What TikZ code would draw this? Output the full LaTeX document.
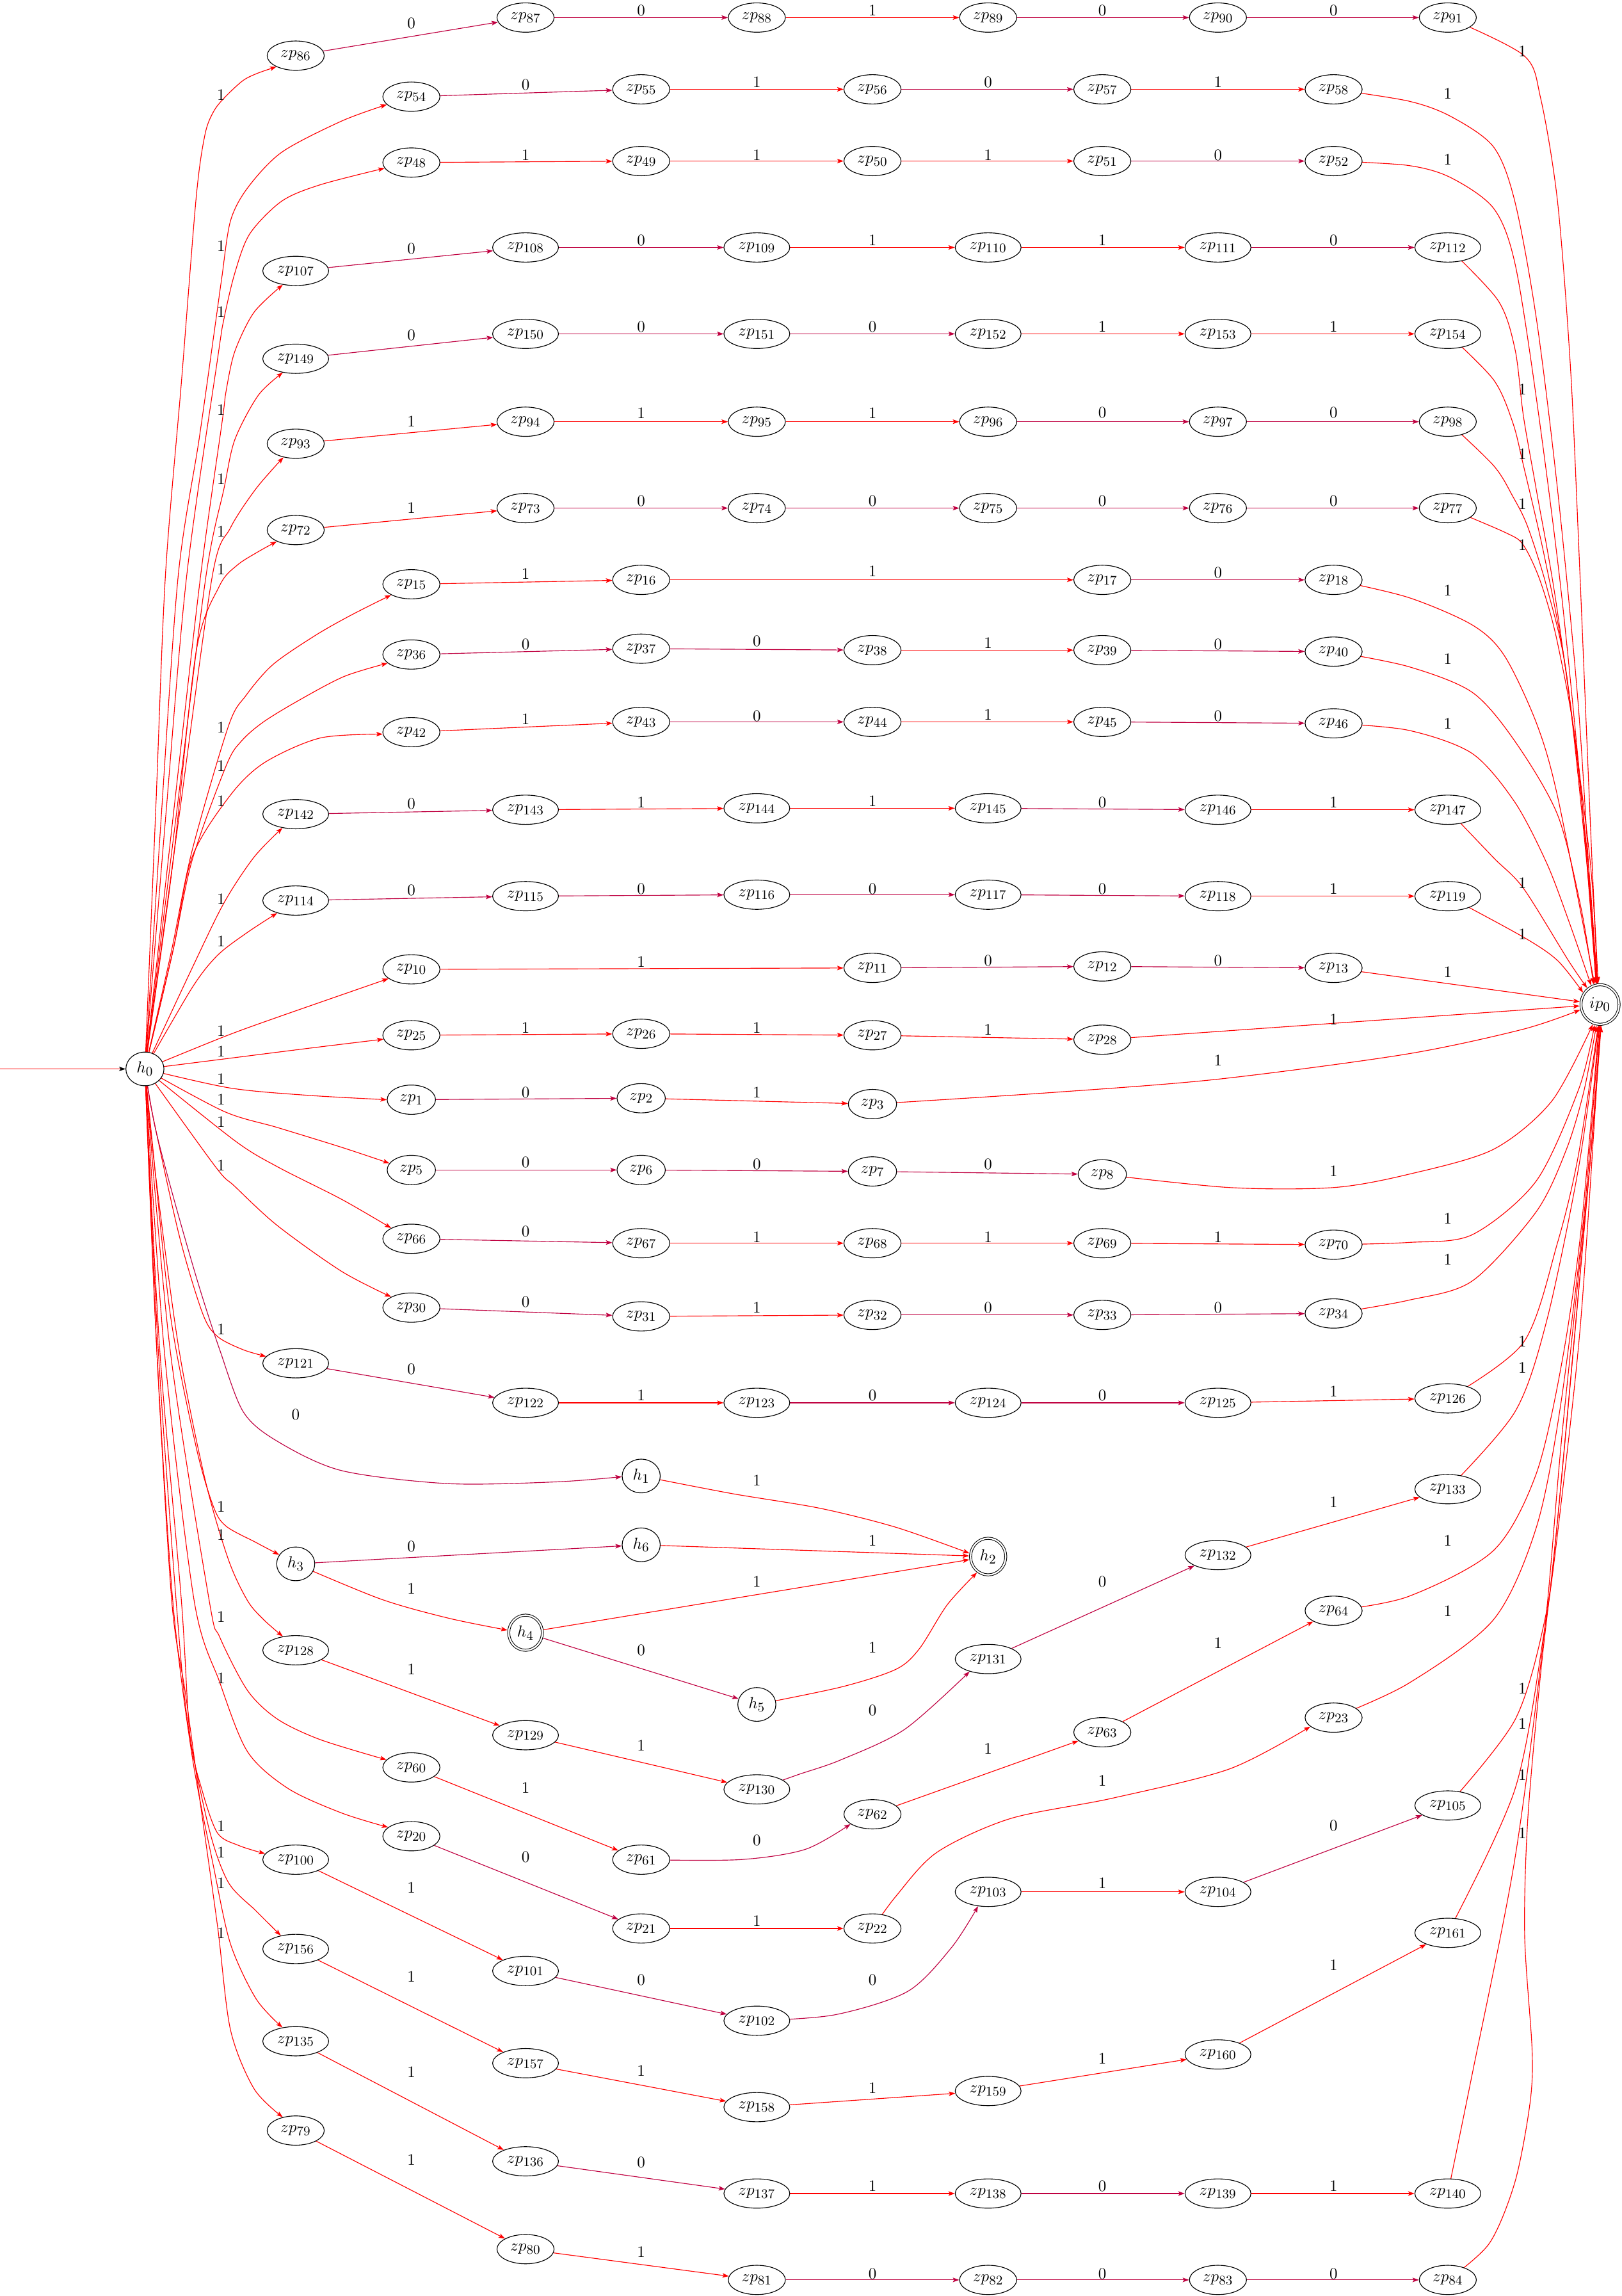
\documentclass[tikz,border=0pt]{standalone}
\usetikzlibrary{arrows.meta,shapes.geometric}
\pgfdeclarelayer{edges}
\pgfsetlayers{edges,main}
\DeclareMathSizes{10.95}{10.95}{8.8}{6.5}
\newcommand\nf{\fontsize{10.95}{13}\selectfont}
\definecolor{zerocol}{rgb}{0.75,0,0.25}
\tikzset{
 st/.style={draw, ellipse, fill=white, inner sep=0pt, minimum height=20pt, line width=0.5pt, font=\nf},
 z1/.style={st, minimum width=33pt},
 z2/.style={st, minimum width=39pt},
 z3/.style={st, minimum width=45pt},
 hs/.style={st, minimum width=26pt, minimum height=23pt},
 acc/.style={draw, ellipse, fill=white, inner sep=0pt, double, double distance=1pt, line width=0.45pt, outer sep=1pt, font=\nf},
 myarr/.style={-{Stealth[length=4.4pt,width=3.1pt,inset=1pt]}},
 e1/.style={draw=red, line width=0.5pt, myarr},
 e0/.style={draw=zerocol, line width=0.5pt, myarr},
 lbl/.style={inner sep=0pt, font=\nf}
}
\newcommand\ZN[4]{\node[#1] (zp#2) at (#3,#4) {$zp_{#2}$};}
\newcommand\ER[2]{\draw[e1] (#1) -- (#2);}
\newcommand\EP[2]{\draw[e0] (#1) -- (#2);}
\newcounter{lbc}
\newcommand\LB[3]{\stepcounter{lbc}\node[lbl] (lb\arabic{lbc}) at (#1,#2) {#3};}
\begin{document}
\begin{tikzpicture}[x=1pt,y=-1pt]
\useasboundingbox (0,0) rectangle (1108,1568);
% ---------------- nodes
\node[hs] (h0) at (99,730) {$h_0$};
\node[acc, minimum width=26pt, minimum height=27pt] (ip0) at (1093,686) {$ip_0$};
\ZN{z2}{86}{202}{38}\ZN{z2}{87}{359}{12}\ZN{z2}{88}{517}{12}\ZN{z2}{89}{675}{12}\ZN{z2}{90}{832}{12}\ZN{z2}{91}{989}{12}
\ZN{z2}{54}{281}{66}\ZN{z2}{55}{438}{61}\ZN{z2}{56}{596}{61}\ZN{z2}{57}{753}{61}\ZN{z2}{58}{911}{61}
\ZN{z2}{48}{281}{111}\ZN{z2}{49}{438}{110}\ZN{z2}{50}{596}{110}\ZN{z2}{51}{753}{110}\ZN{z2}{52}{911}{110}
\ZN{z3}{107}{202}{185}\ZN{z3}{108}{359}{169}\ZN{z3}{109}{517}{169}\ZN{z3}{110}{675}{169}\ZN{z3}{111}{832}{169}\ZN{z3}{112}{989}{169}
\ZN{z3}{149}{202}{245}\ZN{z3}{150}{359}{228}\ZN{z3}{151}{517}{228}\ZN{z3}{152}{675}{228}\ZN{z3}{153}{832}{228}\ZN{z3}{154}{989}{228}
\ZN{z2}{93}{202}{303}\ZN{z2}{94}{359}{288}\ZN{z2}{95}{517}{288}\ZN{z2}{96}{675}{288}\ZN{z2}{97}{832}{288}\ZN{z2}{98}{989}{288}
\ZN{z2}{72}{202}{362}\ZN{z2}{73}{359}{347}\ZN{z2}{74}{517}{347}\ZN{z2}{75}{675}{347}\ZN{z2}{76}{832}{347}\ZN{z2}{77}{989}{347}
\ZN{z2}{15}{281}{399}\ZN{z2}{16}{438}{396}\ZN{z2}{17}{753}{396}\ZN{z2}{18}{911}{396}
\ZN{z2}{36}{281}{447}\ZN{z2}{37}{438}{443}\ZN{z2}{38}{596}{444}\ZN{z2}{39}{753}{444}\ZN{z2}{40}{911}{445}
\ZN{z2}{42}{281}{500}\ZN{z2}{43}{438}{493}\ZN{z2}{44}{596}{493}\ZN{z2}{45}{753}{493}\ZN{z2}{46}{911}{494}
\ZN{z3}{142}{202}{556}\ZN{z3}{143}{359}{553}\ZN{z3}{144}{517}{552}\ZN{z3}{145}{675}{552}\ZN{z3}{146}{832}{553}\ZN{z3}{147}{989}{553}
\ZN{z3}{114}{202}{615}\ZN{z3}{115}{359}{612}\ZN{z3}{116}{517}{611}\ZN{z3}{117}{675}{611}\ZN{z3}{118}{832}{612}\ZN{z3}{119}{989}{612}
\ZN{z2}{10}{281}{662}\ZN{z2}{11}{596}{661}\ZN{z2}{12}{753}{660}\ZN{z2}{13}{911}{661}
\ZN{z2}{25}{281}{707}\ZN{z2}{26}{438}{706}\ZN{z2}{27}{596}{707}\ZN{z2}{28}{753}{710}
\ZN{z1}{1}{281}{751}\ZN{z1}{2}{438}{750}\ZN{z1}{3}{596}{754}
\ZN{z1}{5}{281}{799}\ZN{z1}{6}{438}{799}\ZN{z1}{7}{596}{800}\ZN{z1}{8}{753}{802}
\ZN{z2}{66}{281}{846}\ZN{z2}{67}{438}{849}\ZN{z2}{68}{596}{849}\ZN{z2}{69}{753}{849}\ZN{z2}{70}{911}{850}
\ZN{z2}{30}{281}{893}\ZN{z2}{31}{438}{899}\ZN{z2}{32}{596}{898}\ZN{z2}{33}{753}{898}\ZN{z2}{34}{911}{897}
\ZN{z3}{121}{202}{931}\ZN{z3}{122}{359}{958}\ZN{z3}{123}{517}{958}\ZN{z3}{124}{675}{958}\ZN{z3}{125}{832}{958}\ZN{z3}{126}{989}{955}
\node[hs] (h1) at (438,1008) {$h_1$};
\node[hs] (h3) at (202,1068) {$h_3$};
\node[hs] (h6) at (438,1055) {$h_6$};
\node[acc, minimum width=24pt, minimum height=25pt] (h2) at (675,1063) {$h_2$};
\node[acc, minimum width=23pt, minimum height=24pt] (h4) at (359,1115) {$h_4$};
\node[hs] (h5) at (517,1164) {$h_5$};
\ZN{z3}{133}{989}{1017}\ZN{z3}{132}{832}{1062}\ZN{z3}{131}{675}{1133}\ZN{z3}{130}{517}{1222}\ZN{z3}{129}{359}{1185}\ZN{z3}{128}{202}{1127}
\ZN{z2}{64}{911}{1100}\ZN{z2}{63}{753}{1183}\ZN{z2}{62}{596}{1239}\ZN{z2}{61}{438}{1270}\ZN{z2}{60}{281}{1207}
\ZN{z2}{23}{911}{1173}\ZN{z2}{22}{596}{1317}\ZN{z2}{21}{438}{1317}\ZN{z2}{20}{281}{1254}
\ZN{z3}{100}{202}{1270}\ZN{z3}{101}{359}{1346}\ZN{z3}{102}{517}{1380}\ZN{z3}{103}{675}{1292}\ZN{z3}{104}{832}{1292}\ZN{z3}{105}{989}{1233}
\ZN{z3}{156}{202}{1331}\ZN{z3}{157}{359}{1409}\ZN{z3}{158}{517}{1439}\ZN{z3}{159}{675}{1428}\ZN{z3}{160}{832}{1403}\ZN{z3}{161}{989}{1320}
\ZN{z3}{135}{202}{1394}\ZN{z3}{136}{359}{1476}\ZN{z3}{137}{517}{1498}\ZN{z3}{138}{675}{1498}\ZN{z3}{139}{832}{1498}\ZN{z3}{140}{989}{1498}
\ZN{z2}{79}{202}{1455}\ZN{z2}{80}{359}{1536}\ZN{z2}{81}{517}{1557}\ZN{z2}{82}{675}{1557}\ZN{z2}{83}{832}{1557}\ZN{z2}{84}{989}{1557}
\coordinate (start) at (0,730);
% ---------------- edges
\begin{pgfonlayer}{edges}
\draw[draw=red, line width=0.5pt, -{Stealth[length=4.4pt,width=3.1pt,inset=1pt,color=black]}] (start) -- (h0);
% chains
\EP{zp86}{zp87}\EP{zp87}{zp88}\ER{zp88}{zp89}\EP{zp89}{zp90}\EP{zp90}{zp91}
\EP{zp54}{zp55}\ER{zp55}{zp56}\EP{zp56}{zp57}\ER{zp57}{zp58}
\ER{zp48}{zp49}\ER{zp49}{zp50}\ER{zp50}{zp51}\EP{zp51}{zp52}
\EP{zp107}{zp108}\EP{zp108}{zp109}\ER{zp109}{zp110}\ER{zp110}{zp111}\EP{zp111}{zp112}
\EP{zp149}{zp150}\EP{zp150}{zp151}\EP{zp151}{zp152}\ER{zp152}{zp153}\ER{zp153}{zp154}
\ER{zp93}{zp94}\ER{zp94}{zp95}\ER{zp95}{zp96}\EP{zp96}{zp97}\EP{zp97}{zp98}
\ER{zp72}{zp73}\EP{zp73}{zp74}\EP{zp74}{zp75}\EP{zp75}{zp76}\EP{zp76}{zp77}
\ER{zp15}{zp16}\ER{zp16}{zp17}\EP{zp17}{zp18}
\EP{zp36}{zp37}\EP{zp37}{zp38}\ER{zp38}{zp39}\EP{zp39}{zp40}
\ER{zp42}{zp43}\EP{zp43}{zp44}\ER{zp44}{zp45}\EP{zp45}{zp46}
\EP{zp142}{zp143}\ER{zp143}{zp144}\ER{zp144}{zp145}\EP{zp145}{zp146}\ER{zp146}{zp147}
\EP{zp114}{zp115}\EP{zp115}{zp116}\EP{zp116}{zp117}\EP{zp117}{zp118}\ER{zp118}{zp119}
\ER{zp10}{zp11}\EP{zp11}{zp12}\EP{zp12}{zp13}
\ER{zp25}{zp26}\ER{zp26}{zp27}\ER{zp27}{zp28}
\EP{zp1}{zp2}\ER{zp2}{zp3}
\EP{zp5}{zp6}\EP{zp6}{zp7}\EP{zp7}{zp8}
\EP{zp66}{zp67}\ER{zp67}{zp68}\ER{zp68}{zp69}\ER{zp69}{zp70}
\EP{zp30}{zp31}\ER{zp31}{zp32}\EP{zp32}{zp33}\EP{zp33}{zp34}
\EP{zp121}{zp122}\ER{zp122}{zp123}\EP{zp123}{zp124}\EP{zp124}{zp125}\ER{zp125}{zp126}
\EP{h3}{h6}\ER{h6}{h2}\ER{h4}{h2}\EP{h4}{h5}
\ER{zp128}{zp129}\ER{zp129}{zp130}\EP{zp131}{zp132}\ER{zp132}{zp133}
\ER{zp60}{zp61}\ER{zp62}{zp63}\ER{zp63}{zp64}
\EP{zp20}{zp21}\ER{zp21}{zp22}
\ER{zp100}{zp101}\EP{zp101}{zp102}\ER{zp103}{zp104}\EP{zp104}{zp105}
\ER{zp156}{zp157}\ER{zp157}{zp158}\ER{zp158}{zp159}\ER{zp159}{zp160}\ER{zp160}{zp161}
\ER{zp135}{zp136}\EP{zp136}{zp137}\ER{zp137}{zp138}\EP{zp138}{zp139}\ER{zp139}{zp140}
\ER{zp79}{zp80}\ER{zp80}{zp81}\EP{zp81}{zp82}\EP{zp82}{zp83}\EP{zp83}{zp84}
\ER{zp13}{ip0}\ER{zp28}{ip0}
% curved chain edges
\draw[e1] plot[smooth] coordinates {(h1.center) (500,1020) (560,1030) (612,1043) (h2.170)};
\draw[e1] plot[smooth] coordinates {(h3.center) (260,1092) (306,1105) (h4.172)};
\draw[e1] plot[smooth] coordinates {(h5.center) (575,1152) (612,1140) (628,1126) (647,1096) (h2.235)};
\draw[e0] plot[smooth] coordinates {(zp130.center) (545,1212) (574,1202) (618,1181) (zp131.214)};
\draw[e0] plot[smooth] coordinates {(zp61.center) (505,1270) (550,1263) (zp62.204)};
\draw[e0] plot[smooth] coordinates {(zp102.center) (570,1376) (620,1360) (650,1330) (zp103.235)};
\draw[e1] plot[smooth] coordinates {(zp22.center) (612,1295) (640,1265) (690,1242) (760,1228) (840,1208) (zp23.201)};
% from h0 upward
\draw[e1] plot[smooth] coordinates {(h0.center) (106.5,550) (113,393) (124,260) (134,135) (140,92) (146,76) (154,66) (166,55) (176,50) (zp86.210)};
\draw[e1] plot[smooth] coordinates {(h0.center) (110,560) (121.7,393.5) (136,300) (147,222) (151.6,189) (157.4,151) (169,128.5) (192.4,104) (233.3,82.7) (zp54.198)};
\draw[e1] plot[smooth] coordinates {(h0.center) (113,560) (127.5,393.5) (148.7,244.5) (153,217.7) (160.4,186.5) (170.6,159.7) (192.4,137.4) (218.7,126.2) (zp48.192)};
\draw[e1] plot[smooth] coordinates {(h0.center) (118,560) (137,393.5) (151.6,289) (154.5,266.8) (160.4,240) (173.5,213.3) (zp107.227)};
\draw[e1] plot[smooth] coordinates {(h0.center) (120,560) (140.7,393.5) (153,333.7) (160.4,300.3) (176.4,270) (zp149.227)};
\draw[e1] plot[smooth] coordinates {(h0.center) (122,560) (145,393.5) (157.4,360.5) (174.9,333.7) (zp93.228)};
\draw[e1] plot[smooth] coordinates {(h0.center) (118,590) (134,445) (150,400) (162,386) (176,377) (zp72.211)};
\draw[e1] plot[smooth] coordinates {(h0.center) (117,650) (131.2,581) (156,496) (168,475) (186.6,453.7) (215.8,433.7) (240,420) (zp15.208)};
\draw[e1] plot[smooth] coordinates {(h0.center) (118,650) (131.2,587.6) (154.5,522.9) (165,506) (180,493) (204.1,478.3) (235,462) (zp36.200)};
\draw[e1] plot[smooth] coordinates {(h0.center) (118,650) (131.2,585.4) (157.4,543) (180.8,520.7) (218.7,504) (zp42.184)};
\draw[e1] plot[smooth] coordinates {(h0.center) (131.2,661.2) (153,616.6) (173.5,585.4) (zp142.226)};
\draw[e1] plot[smooth] coordinates {(h0.center) (131.2,674.6) (148.7,652.3) (169.1,636.7) (zp114.214)};
\draw[e1] plot[smooth] coordinates {(h0.center) (153,708) (189.5,694.7) (zp10.202)};
\draw[e1] plot[smooth] coordinates {(h0.center) (153,723.2) (210,716) (zp25.188)};
% from h0 downward
\draw[e1] plot[smooth] coordinates {(h0.center) (157,743) (210,748) (zp1.180)};
\draw[e1] plot[smooth] coordinates {(h0.center) (153,759) (189.5,770) (233.3,783.5) (zp5.163)};
\draw[e1] plot[smooth] coordinates {(h0.center) (160.4,779) (189.5,796.8) (233.3,819) (zp66.152)};
\draw[e1] plot[smooth] coordinates {(h0.center) (147.2,796.8) (160.4,810.2) (189.5,837) (233.3,868.2) (zp30.152)};
\draw[e1] plot[smooth] coordinates {(h0.center) (104,760) (122.4,843.7) (138.5,897.2) (148.7,912.8) (166.2,921.8) (zp121.167)};
\draw[e0] plot[smooth] coordinates {(h0.center) (106,770) (119.5,821.4) (135.6,877.2) (150.1,921.8) (166.2,964.2) (189.5,984.3) (233.3,1004.3) (306.2,1013.2) (380,1012) (h1.182)};
\draw[e1] plot[smooth] coordinates {(h0.center) (104,780) (116.6,899.5) (134.1,988.7) (145.8,1028.9) (154.5,1042.3) (174.9,1053.4) (h3.151)};
\draw[e1] plot[smooth] coordinates {(h0.center) (106,800) (122,920) (140,1010) (156,1065) (169,1093) (180,1106) (zp128.133)};
\draw[e1] plot[smooth] coordinates {(h0.center) (116,920) (142.9,1093) (150.1,1118) (169.1,1154.5) (189.5,1174) (218.7,1188) (zp60.163)};
\draw[e1] plot[smooth] coordinates {(h0.center) (112,920) (132.6,1093) (150.1,1148.9) (169.1,1196.3) (196.8,1221.4) (233.3,1238.1) (zp20.159)};
\draw[e1] plot[smooth] coordinates {(h0.center) (109,920) (123.9,1093) (129.7,1185) (138.5,1224.2) (148.7,1252) (163.3,1260.4) (zp100.169)};
\draw[e1] plot[smooth] coordinates {(h0.center) (108,920) (120.3,1093) (128.3,1176.8) (142.9,1249.3) (156,1285.5) (174.9,1305) (zp156.138)};
\draw[e1] plot[smooth] coordinates {(h0.center) (107,920) (118,1093) (131.2,1199) (145.8,1274.4) (157.4,1327.4) (174.9,1365) (zp135.134)};
\draw[e1] plot[smooth] coordinates {(h0.center) (107,920) (117.3,1093) (126.8,1157.2) (137,1232.5) (148.7,1316.2) (157.4,1386) (173.5,1426.4) (zp79.134)};
% into ip0 from above
\draw[e1] plot[smooth] coordinates {(zp91.center) (1040.7,37.7) (1052.4,67) (1064,138) (1072.8,251) (1078.6,376.6) (1087.4,585.8) (ip0.95)};
\draw[e1] plot[smooth] coordinates {(zp58.center) (962,69) (991,79.5) (1020.3,100.4) (1034.9,138) (1049.5,217.6) (1064,334.7) (1078,480) (1087,620) (ip0.96)};
\draw[e1] plot[smooth] coordinates {(zp52.center) (962,113) (991,121.3) (1020.3,142.3) (1034.9,180) (1049.5,272) (1066,400) (1080,540) (ip0.97)};
\draw[e1] plot[smooth] coordinates {(zp112.center) (1023.2,205) (1034.9,238.5) (1040.7,284.5) (1049.5,334.7) (1064,418.4) (1086,585.8) (ip0.98)};
\draw[e1] plot[smooth] coordinates {(zp154.center) (1020.3,259.4) (1033.4,288.7) (1040.7,318) (1055,380) (1070,460) (1085,590) (ip0.99)};
\draw[e1] plot[smooth] coordinates {(zp98.center) (1020.3,318) (1033.4,339) (1043.6,359.8) (1056.8,401.7) (1070,460) (1084,590) (ip0.100)};
\draw[e1] plot[smooth] coordinates {(zp77.center) (1029,364) (1040.7,372.4) (1052.4,397.5) (1064,439.3) (1078,520) (ip0.101)};
\draw[e1] plot[smooth] coordinates {(zp18.center) (962,408) (1005.7,426.8) (1027.6,447.7) (1049.5,493.7) (1064,544) (ip0.105)};
\draw[e1] plot[smooth] coordinates {(zp40.center) (962,455.2) (1005.7,472.8) (1034.9,506.3) (1064,556.5) (1080,620) (ip0.108)};
\draw[e1] plot[smooth] coordinates {(zp46.center) (962,498.7) (1005.7,514.6) (1034.9,548) (1056.8,590) (1072,630) (ip0.115)};
\draw[e1] plot[smooth] coordinates {(zp147.center) (1020.3,585.8) (1040.7,606.7) (1071.4,656) (ip0.128)};
\draw[e1] plot[smooth] coordinates {(zp119.center) (1040.7,640) (1064,656) (ip0.145)};
% into ip0 from the left and below
\draw[e1] plot[smooth] coordinates {(zp3.center) (720,746) (832,737) (960,720) (1040,703) (ip0.195)};
\draw[e1] plot[smooth] coordinates {(zp8.center) (840,811) (911,811) (962,802) (1020,785) (1060,752) (ip0.250)};
\draw[e1] plot[smooth] coordinates {(zp70.center) (962,848.5) (1005.7,843.2) (1049.5,806.4) (1078.6,743.3) (ip0.255)};
\draw[e1] plot[smooth] coordinates {(zp34.center) (962,888) (1005.7,874.8) (1049.5,827.4) (1070,785) (1082,745) (ip0.260)};
\draw[e1] plot[smooth] coordinates {(zp126.center) (1040.7,916.8) (1064,848.5) (1078,790) (ip0.265)};
\draw[e1] plot[smooth] coordinates {(zp133.center) (1034.9,964.1) (1056.8,901) (1078.6,795.9) (ip0.266)};
\draw[e1] plot[smooth] coordinates {(zp64.center) (962,1090.3) (1020.3,1058.8) (1049.5,1006.2) (1067,930) (1080,840) (ip0.267)};
\draw[e1] plot[smooth] coordinates {(zp23.center) (962,1149.7) (1020.3,1106) (1049.5,1043) (1066,960) (1082,830) (ip0.268)};
\draw[e1] plot[smooth] coordinates {(zp105.center) (1034.9,1174.5) (1055.3,1106) (1064,1037.8) (1086,795.9) (ip0.270)};
\draw[e1] plot[smooth] coordinates {(zp161.center) (1034.9,1221.8) (1055.3,1111.4) (1066,1030) (1080,900) (ip0.271)};
\draw[e1] plot[smooth] coordinates {(zp140.center) (1005.7,1416.3) (1034.9,1269) (1055.3,1111.4) (1067,980) (1086,796) (ip0.272)};
\draw[e1] plot[smooth] coordinates {(zp84.center) (1017.4,1532) (1034.9,1490) (1045,1437.4) (1046.6,1400.5) (1041.5,1321.7) (1043.6,1242.8) (1052.4,1143) (1064,1037.8) (1086,796) (ip0.273)};
\end{pgfonlayer}
% ---------------- labels
\LB{281}{16}{0}\LB{438}{7}{0}\LB{596}{7}{1}\LB{753}{7}{0}\LB{911}{7}{0}\LB{1040}{35}{1}
\LB{359}{58}{0}\LB{517}{56}{1}\LB{675}{56}{0}\LB{832}{56}{1}\LB{989}{64}{1}
\LB{359}{106}{1}\LB{517}{106}{1}\LB{675}{106}{1}\LB{832}{106}{0}\LB{989}{109}{1}
\LB{281}{170}{0}\LB{438}{164}{0}\LB{596}{164}{1}\LB{753}{164}{1}\LB{911}{164}{0}\LB{1040}{266}{1}
\LB{281}{229}{0}\LB{438}{223}{0}\LB{596}{223}{0}\LB{753}{223}{1}\LB{911}{223}{1}\LB{1040}{310}{1}
\LB{281}{288}{1}\LB{438}{282}{1}\LB{596}{282}{1}\LB{753}{282}{0}\LB{911}{282}{0}\LB{1040}{344}{1}
\LB{281}{347}{1}\LB{438}{342}{0}\LB{596}{342}{0}\LB{753}{342}{0}\LB{911}{342}{0}\LB{1040}{372}{1}
\LB{359}{392}{1}\LB{596}{390}{1}\LB{832}{391}{0}\LB{989}{403}{1}
\LB{359}{440}{0}\LB{517}{438}{0}\LB{675}{439}{1}\LB{832}{440}{0}\LB{989}{450}{1}
\LB{359}{491}{1}\LB{517}{489}{0}\LB{675}{488}{1}\LB{832}{489}{0}\LB{989}{494}{1}
\LB{281}{549}{0}\LB{438}{548}{1}\LB{596}{547}{1}\LB{753}{548}{0}\LB{911}{548}{1}\LB{1040}{603}{1}
\LB{281}{608}{0}\LB{438}{607}{0}\LB{596}{607}{0}\LB{753}{607}{0}\LB{911}{607}{1}\LB{1040}{638}{1}
\LB{438}{657}{1}\LB{675}{656}{0}\LB{832}{656}{0}\LB{989}{664}{1}
\LB{359}{702}{1}\LB{517}{702}{1}\LB{675}{703}{1}\LB{911}{696}{1}
\LB{359}{746}{0}\LB{517}{746}{1}\LB{832}{724}{1}
\LB{359}{794}{0}\LB{517}{795}{0}\LB{675}{795}{0}\LB{911}{800}{1}
\LB{359}{841}{0}\LB{517}{845}{1}\LB{675}{845}{1}\LB{832}{845}{1}\LB{989}{832}{1}
\LB{359}{889}{0}\LB{517}{893}{1}\LB{675}{893}{0}\LB{832}{893}{0}\LB{989}{860}{1}
\LB{281}{935}{0}\LB{438}{953}{1}\LB{596}{953}{0}\LB{753}{953}{0}\LB{911}{950}{1}\LB{1040}{916}{1}
\LB{202}{966}{0}\LB{517}{1011}{1}
\LB{281}{1056}{0}\LB{596}{1052}{1}
\LB{281}{1085}{1}\LB{517}{1080}{1}
\LB{438}{1127}{0}\LB{596}{1125}{1}
\LB{281}{1140}{1}\LB{438}{1192}{1}\LB{596}{1168}{0}\LB{753}{1080}{0}\LB{911}{1026}{1}\LB{1040}{934}{1}
\LB{359}{1221}{1}\LB{517}{1257}{0}\LB{675}{1194}{1}\LB{832}{1122}{1}\LB{989}{1052}{1}
\LB{359}{1268}{0}\LB{517}{1312}{1}\LB{753}{1216}{1}\LB{989}{1100}{1}
\LB{281}{1289}{1}\LB{438}{1352}{0}\LB{596}{1352}{0}\LB{753}{1286}{1}\LB{911}{1247}{0}\LB{1040}{1153}{1}
\LB{281}{1350}{1}\LB{438}{1414}{1}\LB{596}{1426}{1}\LB{753}{1406}{1}\LB{911}{1342}{1}\LB{1040}{1177}{1}
\LB{281}{1415}{1}\LB{438}{1477}{0}\LB{596}{1493}{1}\LB{753}{1493}{0}\LB{911}{1493}{1}\LB{1040}{1212}{1}
\LB{281}{1475}{1}\LB{438}{1538}{1}\LB{596}{1553}{0}\LB{753}{1553}{0}\LB{911}{1553}{0}\LB{1040}{1252}{1}
\LB{151}{65}{1}\LB{151}{168}{1}\LB{151}{213}{1}\LB{151}{280}{1}\LB{151}{327}{1}\LB{151}{363}{1}\LB{151}{389}{1}
\LB{151}{497}{1}\LB{151}{523}{1}\LB{151}{547}{1}\LB{151}{614}{1}\LB{151}{643}{1}
\LB{151}{704}{1}\LB{151}{718}{1}\LB{151}{737}{1}\LB{151}{751}{1}\LB{151}{766}{1}\LB{151}{796}{1}
\LB{151}{908}{1}\LB{151}{1029}{1}\LB{151}{1048}{1}\LB{151}{1104}{1}\LB{151}{1146}{1}
\LB{151}{1247}{1}\LB{151}{1265}{1}\LB{151}{1286}{1}\LB{151}{1320}{1}
\end{tikzpicture}
\end{document}
